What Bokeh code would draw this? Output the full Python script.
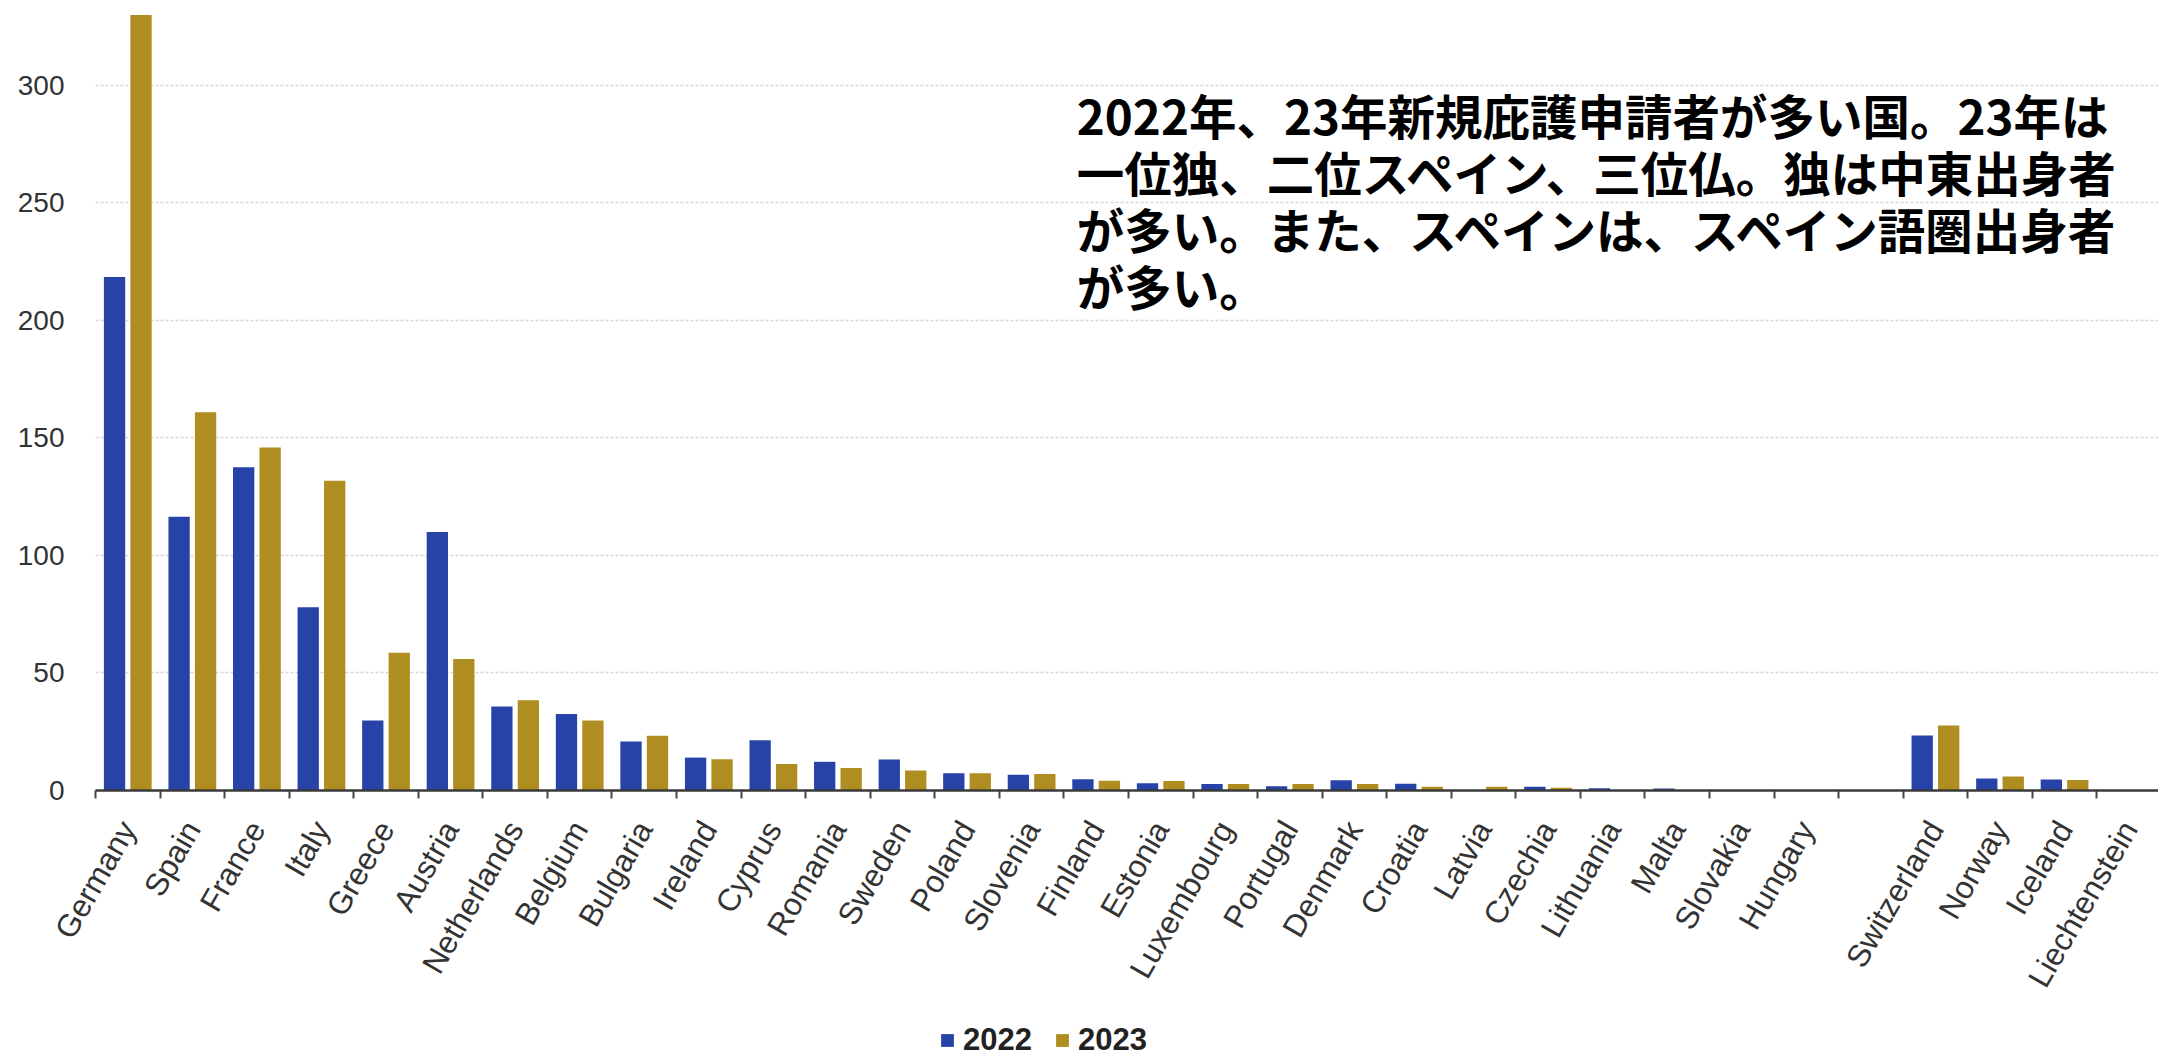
from bokeh.plotting import figure
from bokeh.models import ColumnDataSource, FixedTicker, Range1d, Legend, LegendItem, Label
from bokeh.transform import dodge
from bokeh.layouts import column
from bokeh.embed import file_html
from bokeh.resources import INLINE

# ---- data ----
categories = ["Germany", "Spain", "France", "Italy", "Greece", "Austria", "Netherlands",
              "Belgium", "Bulgaria", "Ireland", "Cyprus", "Romania", "Sweden", "Poland",
              "Slovenia", "Finland", "Estonia", "Luxembourg", "Portugal", "Denmark",
              "Croatia", "Latvia", "Czechia", "Lithuania", "Malta", "Slovakia", "Hungary",
              "", "Switzerland", "Norway", "Iceland", "Liechtenstein"]
v2022 = [218.5, 116.5, 137.5, 78, 29.8, 110, 35.7, 32.5, 20.9, 14.0, 21.4, 12.2, 13.2, 7.3,
         6.7, 4.8, 3.1, 2.8, 1.8, 4.4, 2.9, 0, 1.6, 1.0, 0.8, 0, 0,
         None, 23.4, 5.1, 4.7, 0]
v2023 = [330, 161, 146, 131.8, 58.6, 56.0, 38.4, 29.8, 23.3, 13.3, 11.3, 9.6, 8.5, 7.3,
         7.0, 4.2, 4.0, 2.8, 2.8, 2.8, 1.6, 1.6, 1.2, 0, 0, 0, 0,
         None, 27.7, 6.0, 4.5, 0]
y_ticks = [0, 50, 100, 150, 200, 250, 300]
series_names = ["2022", "2023"]
note_lines = ["2022年、23年新規庇護申請者が多い国。23年は",
              "一位独、二位スペイン、三位仏。独は中東出身者",
              "が多い。また、スペインは、スペイン語圏出身者",
              "が多い。"]

BLUE = "#2743A7"
GOLD = "#AF8D21"

idx = [i for i, c in enumerate(categories) if c != ""]
src = ColumnDataSource(data=dict(
    x=idx,
    name=[categories[i] for i in idx],
    a=[v2022[i] for i in idx],
    b=[v2023[i] for i in idx],
))

W = 2158
H_MAIN = 1019
H_LEG = 37

p = figure(width=W, height=H_MAIN, output_backend="svg", toolbar_location=None,
           x_range=Range1d(-0.5, 31.455), y_range=Range1d(0, 330.2),
           min_border_left=95, min_border_right=0, min_border_top=14, min_border_bottom=229)
p.outline_line_color = None
p.background_fill_color = "white"
p.border_fill_color = "white"

r1 = p.vbar(x=dodge("x", -0.205, range=p.x_range), top="a", width=0.33, bottom=0,
            source=src, fill_color=BLUE, line_color=None)
r2 = p.vbar(x=dodge("x", 0.205, range=p.x_range), top="b", width=0.33, bottom=0,
            source=src, fill_color=GOLD, line_color=None)

# x axis: labels at slot centres, ticks at slot boundaries
xa = p.xaxis[0]
xa.ticker = FixedTicker(ticks=list(range(len(categories))),
                        minor_ticks=[i - 0.5 for i in range(len(categories) + 1)])
xa.major_label_overrides = {i: c for i, c in enumerate(categories)}
xa.major_label_orientation = 1.0472
xa.major_tick_out = 0
xa.major_tick_in = 0
xa.minor_tick_out = 8
xa.minor_tick_in = 0
xa.minor_tick_line_width = 2
xa.minor_tick_line_color = "#444444"
xa.axis_line_color = "#3a3a3a"
xa.axis_line_width = 2.5
xa.major_label_standoff = 25
xa.major_label_text_font = "Liberation Sans"
xa.major_label_text_font_size = "31.5px"
xa.major_label_text_color = "#333333"

ya = p.yaxis[0]
ya.ticker = FixedTicker(ticks=y_ticks)
ya.axis_line_color = None
ya.major_tick_line_color = None
ya.minor_tick_line_color = None
ya.major_label_standoff = 25
ya.major_label_text_font = "Liberation Sans"
ya.major_label_text_font_size = "28px"
ya.major_label_text_color = "#333333"

p.xgrid.grid_line_color = None
p.ygrid.ticker = FixedTicker(ticks=y_ticks[1:])
p.ygrid.grid_line_color = "#d6d6d6"
p.ygrid.grid_line_dash = "3 2"
p.ygrid.grid_line_width = 1.5

y0 = 287.6
step = 24.3
for k, line in enumerate(note_lines):
    p.add_layout(Label(x=14.70, y=y0 - k * step, text=line, text_align="left",
                       text_baseline="middle", text_font="Noto Sans CJK JP",
                       text_font_style="bold", text_font_size="47.5px", text_color="#000000"))

# ---- legend strip below the chart ----
q = figure(width=W, height=H_LEG, output_backend="svg", toolbar_location=None,
           x_range=Range1d(1000, 1001), y_range=Range1d(1000, 1001),
           min_border_left=0, min_border_right=0, min_border_top=0, min_border_bottom=0)
q.axis.visible = False
q.grid.visible = False
q.outline_line_color = None
q.background_fill_color = "white"
q.border_fill_color = "white"
l1 = q.vbar(x="x", top="a", width=0.33, source=src, fill_color=BLUE, line_color=None)
l2 = q.vbar(x="x", top="b", width=0.33, source=src, fill_color=GOLD, line_color=None)

legend = Legend(items=[LegendItem(label=series_names[0], renderers=[l1]),
                       LegendItem(label=series_names[1], renderers=[l2])],
                orientation="horizontal", location=(844, -2),
                glyph_width=16, glyph_height=16, label_standoff=8, spacing=22,
                label_height=30, padding=0, margin=0, border_line_color=None,
                background_fill_alpha=0,
                label_text_font="Liberation Sans", label_text_font_style="bold",
                label_text_font_size="31px", label_text_color="#222222")
q.add_layout(legend, "center")

open("out.html", "w").write(file_html(column(p, q, spacing=0), INLINE))
